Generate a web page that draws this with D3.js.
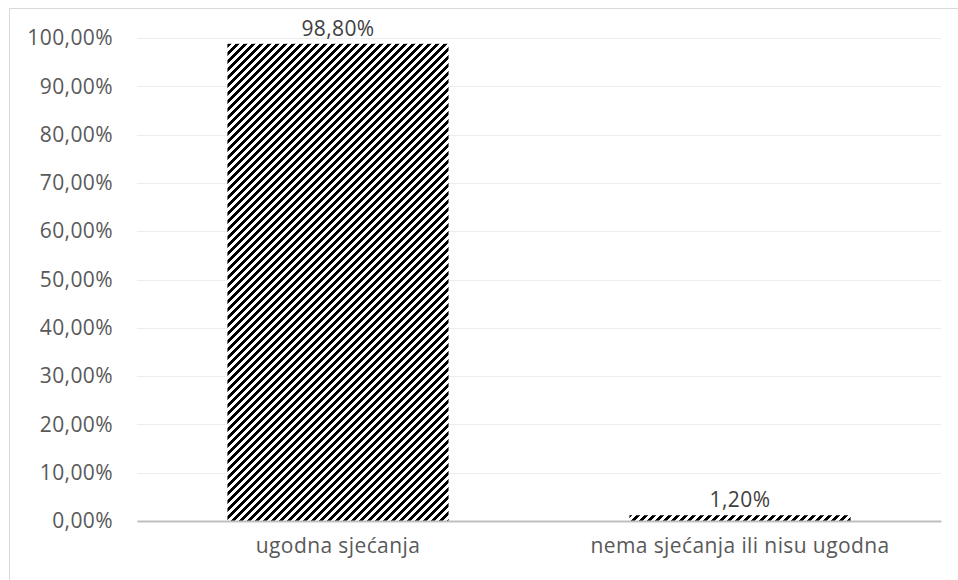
<!DOCTYPE html>
<html>
<head>
<meta charset="utf-8">
<script src="https://cdn.jsdelivr.net/npm/d3@7"></script>
<style>
  body { margin: 0; background: #fff; }
  svg { display: block; font-family: "Open Sans", "Liberation Sans", sans-serif; }
</style>
</head>
<body>
<svg id="chart" width="958" height="580"></svg>
<script>
// chart data
const categories = ["ugodna sjećanja", "nema sjećanja ili nisu ugodna"];
const values = [98.8, 1.2];
const yTicks = [0, 10, 20, 30, 40, 50, 60, 70, 80, 90, 100];

const width = 958, height = 580;
const margin = {top: 38, right: 17, bottom: 58, left: 137};
const fontSize = 21;

const svg = d3.select("#chart");
const fmt = v => v.toFixed(2).replace(".", ",") + "%";

// outer chart frame (runs off the right and bottom edges)
svg.append("rect")
    .attr("x", 9.5).attr("y", 8.5)
    .attr("width", 960).attr("height", 600)
    .attr("fill", "none")
    .attr("stroke", "#d9d9d9");

// wide upward diagonal pattern, pixel staircase like Excel's
const pat = svg.append("defs").append("pattern")
    .attr("id", "hatch")
    .attr("patternUnits", "userSpaceOnUse")
    .attr("width", 8).attr("height", 8);
pat.append("rect").attr("width", 8).attr("height", 8).attr("fill", "#fff");
d3.range(8).forEach(r => {
  d3.range(4).forEach(k => {
    const c = (7 - r + k) % 8;
    pat.append("rect")
        .attr("x", c).attr("y", r)
        .attr("width", 1).attr("height", 1)
        .attr("fill", "#000")
        .attr("shape-rendering", "crispEdges");
  });
});

const x = d3.scaleBand()
    .domain(categories)
    .range([margin.left, width - margin.right])
    .paddingInner(0.45)
    .paddingOuter(0.225);

const y = d3.scaleLinear()
    .domain([0, 100])
    .range([height - margin.bottom - 1, margin.top]);

// gridlines
svg.append("g")
  .selectAll("line")
  .data(yTicks.filter(t => t > 0))
  .join("line")
    .attr("x1", margin.left).attr("x2", width - margin.right)
    .attr("y1", d => Math.round(y(d)) + 0.5)
    .attr("y2", d => Math.round(y(d)) + 0.5)
    .attr("stroke", "#ededed");

// y axis labels
const yAxis = d3.axisLeft(y).tickValues(yTicks).tickFormat(fmt).tickSize(0).tickPadding(24);
svg.append("g")
    .attr("transform", `translate(${margin.left},0)`)
    .call(yAxis)
    .call(g => g.select(".domain").remove())
    .call(g => g.selectAll("text")
        .attr("fill", "#595959")
        .attr("font-size", fontSize)
        .attr("letter-spacing", 0.4)
        .attr("font-family", "Open Sans, sans-serif"));

// bars
svg.append("g")
  .selectAll("rect")
  .data(values)
  .join("rect")
    .attr("x", (d, i) => x(categories[i]))
    .attr("y", d => y(d))
    .attr("width", x.bandwidth())
    .attr("height", d => y(0) - y(d))
    .attr("fill", "url(#hatch)");

// value labels
svg.append("g")
  .selectAll("text")
  .data(values)
  .join("text")
    .attr("x", (d, i) => x(categories[i]) + x.bandwidth() / 2)
    .attr("y", d => y(d) - 8)
    .attr("text-anchor", "middle")
    .attr("fill", "#404040")
    .attr("font-size", fontSize)
    .attr("letter-spacing", 0.4)
    .text(d => fmt(d));

// x axis baseline + category labels
const xAxis = d3.axisBottom(x).tickSize(0).tickPadding(17);
svg.append("g")
    .attr("transform", `translate(0,${y(0)})`)
    .call(xAxis)
    .call(g => g.select(".domain")
        .attr("stroke", "#bfbfbf")
        .attr("stroke-width", 2))
    .call(g => g.selectAll("text")
        .attr("fill", "#595959")
        .attr("font-size", fontSize)
        .attr("letter-spacing", 0.4)
        .attr("font-family", "Open Sans, sans-serif"));
</script>
</body>
</html>
